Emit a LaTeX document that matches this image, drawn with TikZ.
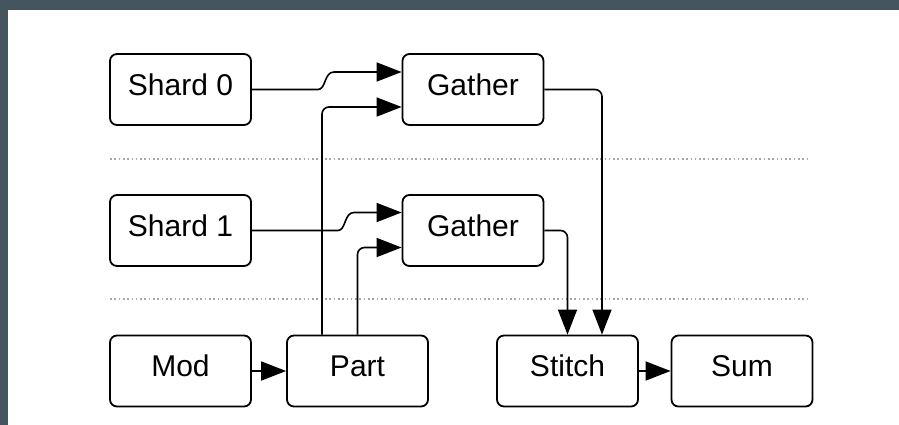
\documentclass[tikz,border=0pt]{standalone}
\usepackage{fontspec}
\setmainfont{Liberation Sans}
\usetikzlibrary{arrows.meta}
\definecolor{frame}{HTML}{44555F}
\tikzset{
  box/.style={draw=black, line width=1.8pt, rounded corners=7pt, minimum width=141pt, minimum height=71pt, inner sep=0pt, text height=21.5pt, text depth=10.5pt, font=\fontsize{30}{34}\selectfont, fill=white},
  conn/.style={draw=black, line width=1.6pt},
  arr/.style={conn, -{Triangle[length=25pt,width=19pt]}},
  sep/.style={draw=gray!70, line width=1.3pt, dash pattern=on 1.6pt off 2.7pt}
}
\begin{document}
\begin{tikzpicture}[x=1pt,y=-1pt]
\useasboundingbox (0,0) rectangle (899,424);
\fill[frame] (-5,-5) rectangle (905,430);
\fill[white] (8,10) rectangle (905,430);
\draw[sep] (110,159) -- (807,159);
\draw[sep] (110,299) -- (807,299);
\node[box] (shard0) at (180.5,89.5) {Shard 0};
\node[box] (g0) at (473,89.5) {Gather};
\node[box] (shard1) at (180.5,230.5) {Shard 1};
\node[box] (g1) at (473,230.5) {Gather};
\node[box] (mod) at (180.5,371) {Mod};
\node[box] (part) at (357.5,371) {Part};
\node[box] (stitch) at (567.5,371) {Stitch};
\node[box] (sum) at (742,371) {Sum};
% shard0 -> g0 with jump
\draw[arr] (shard0.east) -- (318,89.5) .. controls (326,89.5) and (324,72) .. (334,72) -- ([yshift=17.5pt]g0.west);
\draw[arr, rounded corners=7pt] ([xshift=-35.5pt]part.north) |- ([yshift=-17.5pt]g0.west);
% shard1 -> g1 with jump
\draw[arr] (shard1.east) -- (338,230.5) .. controls (346,230.5) and (344,212.5) .. (354,212.5) -- ([yshift=18pt]g1.west);
\draw[arr, rounded corners=7pt] (part.north) |- ([yshift=-17pt]g1.west);
% gathers -> stitch
\draw[arr, rounded corners=7pt] (g0.east) -| ([xshift=34.5pt]stitch.north);
\draw[arr, rounded corners=7pt] (g1.east) -| (stitch.north);
% bottom row
\draw[arr] (mod.east) -- (part.west);
\draw[arr] (stitch.east) -- (sum.west);
\end{tikzpicture}
\end{document}
